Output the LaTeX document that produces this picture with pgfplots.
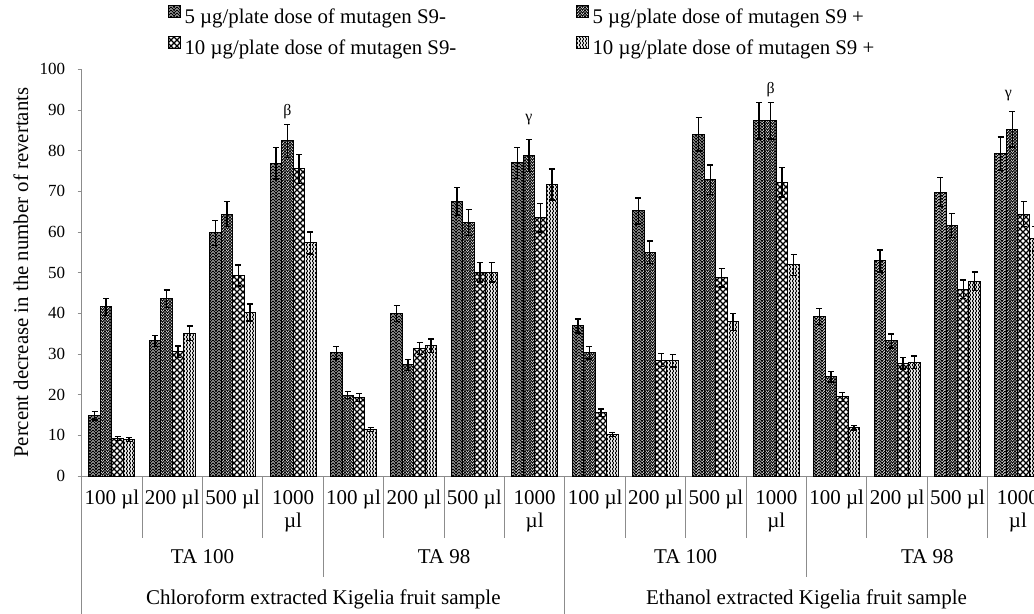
\documentclass[border=0pt]{standalone}
\usepackage{fontspec}
\setmainfont{Liberation Serif}
\usepackage{pgfplots}
\usepackage{pgfplotstable}
\pgfplotsset{compat=1.18}
\usetikzlibrary{patterns}

\pgfdeclarepatternformonly{chevup}{\pgfqpoint{-0.6pt}{-0.6pt}}{\pgfqpoint{4.2pt}{2.4pt}}{\pgfqpoint{3.6pt}{1.8pt}}{%
  \pgfsetlinewidth{0.65pt}%
  \pgfpathmoveto{\pgfqpoint{-0.3pt}{-0.3pt}}%
  \pgfpathlineto{\pgfqpoint{1.8pt}{1.8pt}}%
  \pgfpathlineto{\pgfqpoint{3.9pt}{-0.3pt}}%
  \pgfusepath{stroke}}
\pgfdeclarepatternformonly{chevdown}{\pgfqpoint{-0.6pt}{-0.6pt}}{\pgfqpoint{3.6pt}{2.4pt}}{\pgfqpoint{3.0pt}{1.8pt}}{%
  \pgfsetlinewidth{0.65pt}%
  \pgfpathmoveto{\pgfqpoint{-0.3pt}{2.1pt}}%
  \pgfpathlineto{\pgfqpoint{1.5pt}{0pt}}%
  \pgfpathlineto{\pgfqpoint{3.3pt}{2.1pt}}%
  \pgfusepath{stroke}}
\pgfdeclarepatternformonly{diamonds}{\pgfqpoint{-0.6pt}{-0.6pt}}{\pgfqpoint{4.2pt}{4.2pt}}{\pgfqpoint{3.6pt}{3.6pt}}{%
  \pgfsetlinewidth{0.7pt}%
  \pgfpathmoveto{\pgfqpoint{-0.3pt}{-0.3pt}}%
  \pgfpathlineto{\pgfqpoint{3.9pt}{3.9pt}}%
  \pgfpathmoveto{\pgfqpoint{-0.3pt}{3.9pt}}%
  \pgfpathlineto{\pgfqpoint{3.9pt}{-0.3pt}}%
  \pgfusepath{stroke}}
\pgfdeclarepatternformonly{vzigzag}{\pgfqpoint{-0.6pt}{-0.6pt}}{\pgfqpoint{2.4pt}{3pt}}{\pgfqpoint{1.8pt}{2.4pt}}{%
  \pgfsetlinewidth{0.5pt}%
  \pgfpathmoveto{\pgfqpoint{0pt}{-0.1pt}}%
  \pgfpathlineto{\pgfqpoint{1.1pt}{1.2pt}}%
  \pgfpathlineto{\pgfqpoint{0pt}{2.5pt}}%
  \pgfusepath{stroke}}

\definecolor{sepcol}{RGB}{140,140,140}

\pgfplotstableread{
x y e
0 14.8 1.0
1 33.2 1.4
2 59.8 3.1
3 76.9 3.9
4 30.3 1.5
5 40.0 2.0
6 67.5 3.4
7 77.0 3.8
8 36.9 1.7
9 65.2 3.2
10 84.0 4.1
11 87.4 4.5
12 39.2 2.0
13 52.9 2.7
14 69.8 3.6
15 79.3 4.1
}\tA
\pgfplotstableread{
x y e
0 41.6 2.1
1 43.6 2.1
2 64.4 3.1
3 82.4 4.1
4 19.9 0.9
5 27.3 1.3
6 62.4 3.2
7 78.8 4.0
8 30.3 1.5
9 55.0 2.8
10 72.9 3.6
11 87.4 4.5
12 24.4 1.3
13 33.2 1.7
14 61.6 3.0
15 85.3 4.4
}\tB
\pgfplotstableread{
x y e
0 9.2 0.5
1 30.6 1.4
2 49.3 2.6
3 75.5 3.6
4 19.3 1.0
5 31.4 1.5
6 50.1 2.4
7 63.5 3.5
8 15.6 0.9
9 28.5 1.6
10 48.8 2.3
11 72.2 3.6
12 19.5 1.1
13 27.7 1.4
14 45.9 2.3
15 64.4 3.1
}\tC
\pgfplotstableread{
x y e
0 9.0 0.5
1 35.1 1.8
2 40.2 2.1
3 57.3 2.7
4 11.5 0.5
5 32.0 1.7
6 50.1 2.4
7 71.7 3.8
8 10.2 0.5
9 28.3 1.5
10 37.9 2.1
11 51.9 2.6
12 11.9 0.6
13 28.0 1.5
14 47.9 2.3
15 58.3 3.0
}\tD

\begin{document}
\begin{tikzpicture}
\begin{axis}[
  scale only axis,
  width=571.38pt, height=244.0pt,
  xmin=-0.5, xmax=15.2666,
  ymin=0, ymax=100,
  clip mode=individual,
  axis x line*=bottom, axis y line*=left,
  axis line style={draw=sepcol, line width=0.6pt},
  ybar=0pt, bar width=0.19,
  ytick={0,10,...,100},
  tick align=outside,
  major tick length=2.4pt,
  ytick style={draw=sepcol, line width=0.6pt},
  xtick style={draw=none},
  xtick={0,...,15},
  xticklabels={100 µl,200 µl,500 µl,{1000\\µl},100 µl,200 µl,500 µl,{1000\\µl},100 µl,200 µl,500 µl,{1000\\µl},100 µl,200 µl,500 µl,{1000\\µl}},
  xticklabel style={font=\fontsize{12.6}{14}\selectfont, align=center, anchor=north, inner sep=0pt, yshift=-6pt},
  yticklabel style={font=\fontsize{10.2}{12}\selectfont, inner sep=0pt, anchor=east, xshift=-7.3pt},
  /pgf/number format/assume math mode=true,
  ylabel={Percent decrease in the number of revertants},
  ylabel style={at={(axis description cs:-0.05636,0.5)}, font=\fontsize{12.5}{14}\selectfont, inner sep=0pt, anchor=base},
  legend columns=2,
  legend cell align=left,
  legend image code/.code={\draw[#1,/tikz/.cd,line width=0.5pt] (0pt,-0.2pt) rectangle (7.2pt,7.0pt);},
  legend style={draw=none, fill=none, inner sep=0pt, at={(0.0907,1.158)}, anchor=north west,
     font=\fontsize{12.5}{14}\selectfont, row sep=4.2pt,
     /tikz/every even column/.append style={column sep=70pt},
     nodes={inner sep=2pt}},
]
\addplot[draw=black, line width=0.6pt, pattern=chevup, pattern color=black,
  error bars/.cd, y dir=both, y explicit,
  error bar style={black, line width=0.8pt},
  error mark options={rotate=90, mark size=1.8pt, line width=0.8pt, black}]
  table[x=x, y=y, y error=e]{\tA};
\addplot[draw=black, line width=0.6pt, pattern=chevdown, pattern color=black,
  error bars/.cd, y dir=both, y explicit,
  error bar style={black, line width=0.8pt},
  error mark options={rotate=90, mark size=1.8pt, line width=0.8pt, black}]
  table[x=x, y=y, y error=e]{\tB};
\addplot[draw=black, line width=0.6pt, pattern=diamonds, pattern color=black,
  error bars/.cd, y dir=both, y explicit,
  error bar style={black, line width=0.8pt},
  error mark options={rotate=90, mark size=1.8pt, line width=0.8pt, black}]
  table[x=x, y=y, y error=e]{\tC};
\addplot[draw=black, line width=0.6pt, pattern=vzigzag, pattern color=black,
  error bars/.cd, y dir=both, y explicit,
  error bar style={black, line width=0.8pt},
  error mark options={rotate=90, mark size=1.8pt, line width=0.8pt, black}]
  table[x=x, y=y, y error=e]{\tD};
\legend{5 µg/plate dose of mutagen S9-, 5 µg/plate dose of mutagen S9 +, 10 µg/plate dose of mutagen S9-, 10 µg/plate dose of mutagen S9 +}

% separators
\pgfplotsinvokeforeach{0.5,1.5,2.5,4.5,5.5,6.5,8.5,9.5,10.5,12.5,13.5,14.5}{
  \draw[sepcol, line width=0.6pt] (axis cs:#1,0) -- ([yshift=-37.2pt]axis cs:#1,0);}
\pgfplotsinvokeforeach{3.5,11.5}{
  \draw[sepcol, line width=0.6pt] (axis cs:#1,0) -- ([yshift=-60.6pt]axis cs:#1,0);}
\pgfplotsinvokeforeach{-0.5,7.5}{
  \draw[sepcol, line width=0.6pt] (axis cs:#1,0) -- ([yshift=-90pt]axis cs:#1,0);}
% group labels
\pgfplotsinvokeforeach{1.5,9.5}{
  \node[anchor=base, font=\fontsize{12.6}{14}\selectfont] at ([yshift=-52.2pt]axis cs:#1,0) {TA 100};}
\pgfplotsinvokeforeach{5.5,13.5}{
  \node[anchor=base, font=\fontsize{12.6}{14}\selectfont] at ([yshift=-52.2pt]axis cs:#1,0) {TA 98};}
\node[anchor=base, font=\fontsize{12.6}{14}\selectfont] at ([yshift=-76.8pt]axis cs:3.5,0) {Chloroform extracted Kigelia fruit sample};
\node[anchor=base, font=\fontsize{12.6}{14}\selectfont] at ([yshift=-76.8pt]axis cs:11.5,0) {Ethanol extracted Kigelia fruit sample};
% significance letters
\node[font=\fontsize{9.5}{11}\selectfont] at (axis cs:2.905,89.6) {β};
\node[font=\fontsize{9.5}{11}\selectfont] at (axis cs:6.905,87.7) {γ};
\node[font=\fontsize{9.5}{11}\selectfont] at (axis cs:10.905,94.9) {β};
\node[font=\fontsize{9.5}{11}\selectfont] at (axis cs:14.84,93.5) {γ};
\end{axis}
\pgfresetboundingbox
\useasboundingbox (-49.02pt,-82.2pt) rectangle (571.38pt,285.6pt);
\end{tikzpicture}
\end{document}
